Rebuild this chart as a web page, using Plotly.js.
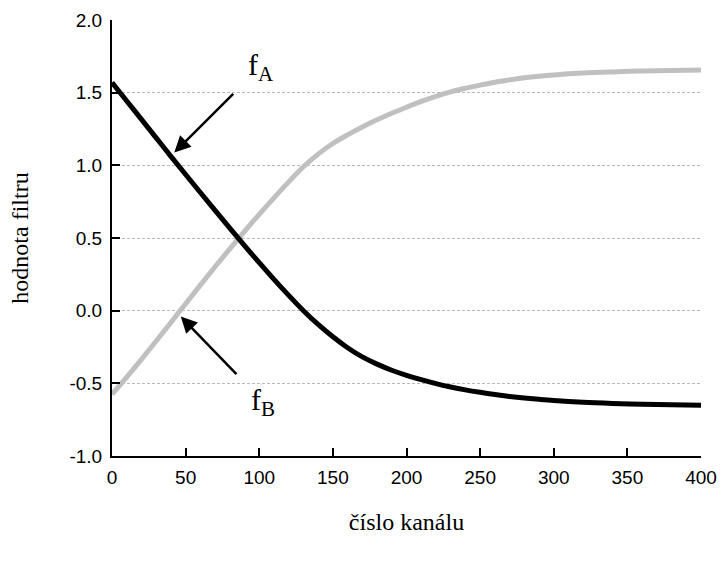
<!DOCTYPE html>
<html>
<head>
<meta charset="utf-8">
<script src="https://cdn.plot.ly/plotly-3.0.1.min.js"></script>
<style>html,body{margin:0;padding:0;background:#fff;}#chart{width:721px;height:565px;}</style>
</head>
<body>
<div id="chart"></div>
<script>
// channel numbers
var channel = [0, 10, 20, 30, 40, 50, 60, 70, 80, 90, 100, 110, 120, 130, 140, 150, 160, 170, 180, 190, 200, 210, 220, 230, 240, 250, 260, 270, 280, 290, 300, 320, 340, 360, 380, 400];
// filter A values (black)
var fA = [1.57, 1.443, 1.316, 1.189, 1.062, 0.937, 0.813, 0.69, 0.568, 0.448, 0.33, 0.215, 0.105, 0.0, -0.095, -0.18, -0.255, -0.318, -0.368, -0.41, -0.445, -0.475, -0.502, -0.525, -0.545, -0.562, -0.577, -0.59, -0.601, -0.61, -0.618, -0.63, -0.638, -0.644, -0.648, -0.651];
// filter B values (grey)
var fB = [-0.575, -0.457, -0.335, -0.209, -0.081, 0.048, 0.176, 0.302, 0.425, 0.546, 0.663, 0.776, 0.886, 0.99, 1.077, 1.15, 1.21, 1.264, 1.313, 1.358, 1.40, 1.44, 1.475, 1.505, 1.53, 1.552, 1.572, 1.588, 1.602, 1.613, 1.622, 1.635, 1.643, 1.649, 1.653, 1.656];
var yTicks = [-1.0, -0.5, 0.0, 0.5, 1.0, 1.5, 2.0];
var gridVals = [-0.5, 0.0, 0.5, 1.0, 1.5];
var xTicks = [0, 50, 100, 150, 200, 250, 300, 350, 400];
var labelA = "f<sub>A</sub>";
var labelB = "f<sub>B</sub>";
var xTitle = "číslo kanálu";
var yTitle = "hodnota filtru";
// arrow heads and label centres (data coordinates)
var arrowA = {head: [42.3, 1.088], label: [101.0, 1.68]};
var arrowB = {head: [46.7, -0.04], label: [102.5, -0.625]};

var traces = [
  {x: [0, 400], y: [-1, 2], xaxis: 'x', yaxis: 'y2', mode: 'none', type: 'scatter', hoverinfo: 'skip', showlegend: false},
  {x: channel, y: fB, type: 'scatter', mode: 'lines', line: {color: '#c0c0c0', width: 5, shape: 'spline', smoothing: 1}, showlegend: false},
  {x: channel, y: fA, type: 'scatter', mode: 'lines', line: {color: '#000000', width: 5, shape: 'spline', smoothing: 1}, showlegend: false}
];

var tickFont = {family: 'Liberation Sans, Arial, sans-serif', size: 19, color: '#000'};
var titleFont = {family: 'Liberation Serif, Times New Roman, serif', size: 24, color: '#000'};
var annFont = {family: 'Liberation Serif, Times New Roman, serif', size: 30, color: '#000'};

var layout = {
  width: 721, height: 565,
  margin: {l: 112, r: 20, t: 20, b: 109, pad: 0},
  paper_bgcolor: '#fff', plot_bgcolor: '#fff',
  showlegend: false,
  xaxis: {
    range: [0, 400], tickvals: xTicks, ticktext: xTicks.map(String),
    ticks: 'inside', ticklen: 8, tickwidth: 2, tickcolor: '#000',
    showline: true, linewidth: 2, linecolor: '#000', mirror: false,
    showgrid: false, zeroline: false, tickfont: tickFont,
    ticklabelstandoff: 3,
    title: {text: xTitle, font: titleFont, standoff: 26}
  },
  yaxis: {
    range: [-1, 2], tickvals: yTicks, ticktext: yTicks.map(function(v){return v.toFixed(1);}),
    ticks: 'inside', ticklen: 8, tickwidth: 2, tickcolor: '#000',
    showline: true, linewidth: 2, linecolor: '#000',
    showgrid: false, zeroline: false, tickfont: tickFont,
    ticklabelstandoff: 4,
    title: {text: yTitle, font: titleFont, standoff: 34}
  },
  yaxis2: {
    overlaying: 'y', range: [-1, 2], tickvals: gridVals, showticklabels: false,
    ticks: '', showline: false, zeroline: false,
    showgrid: true, gridcolor: '#b8b8b8', gridwidth: 1, griddash: '3px,2px'
  },
  annotations: [
    {x: arrowA.head[0], y: arrowA.head[1], ax: arrowA.label[0], ay: arrowA.label[1], axref: 'x', ayref: 'y', xref: 'x', yref: 'y',
     text: labelA, font: annFont, showarrow: true, arrowhead: 2, arrowsize: 1.3, arrowwidth: 2.5, arrowcolor: '#000', standoff: 0, borderpad: 14},
    {x: arrowB.head[0], y: arrowB.head[1], ax: arrowB.label[0], ay: arrowB.label[1], axref: 'x', ayref: 'y', xref: 'x', yref: 'y',
     text: labelB, font: annFont, showarrow: true, arrowhead: 2, arrowsize: 1.3, arrowwidth: 2.5, arrowcolor: '#000', standoff: 0, borderpad: 14}
  ]
};

Plotly.newPlot('chart', traces, layout, {displayModeBar: false, staticPlot: true});
</script>
</body>
</html>
